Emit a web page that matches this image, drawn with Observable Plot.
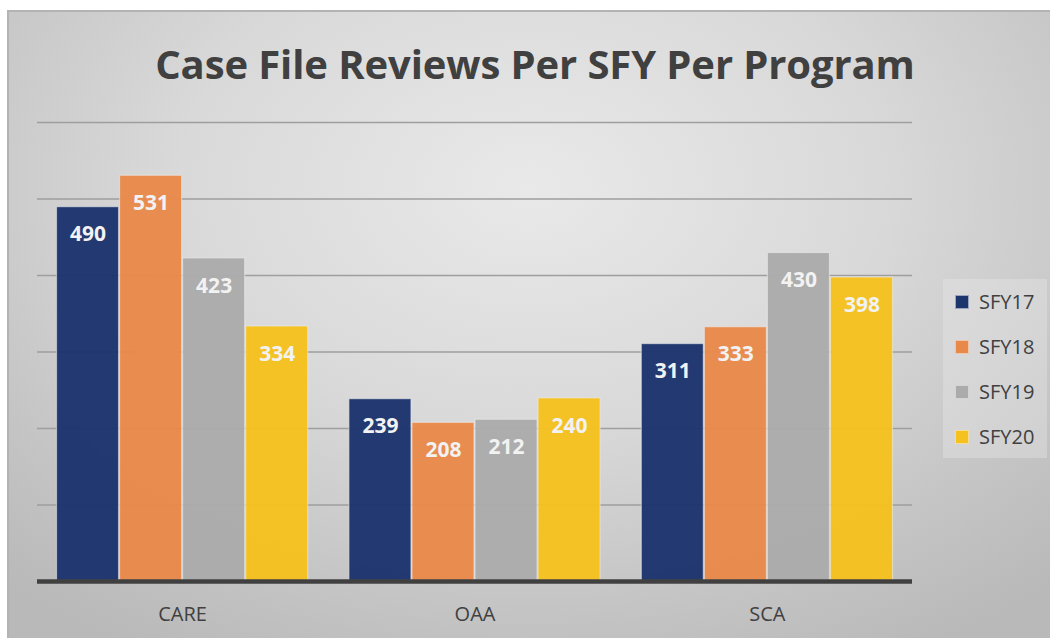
<!DOCTYPE html>
<html>
<head>
<meta charset="utf-8">
<script src="https://cdn.jsdelivr.net/npm/d3@7"></script>
<script src="https://cdn.jsdelivr.net/npm/@observablehq/plot@0.6"></script>
<style>
  html, body { margin: 0; padding: 0; background: #ffffff; }
  #wrap { position: relative; width: 1050px; height: 638px; overflow: hidden; }
  #panel {
    position: absolute; left: 7px; top: 10px; width: 1043px; height: 628px;
    box-sizing: border-box; border-left: 2px solid #b3b3b3; border-top: 2px solid #b3b3b3;
    background: radial-gradient(ellipse 75% 85% at 50% 28%, #e9e9e9 0%, #d9d9d9 45%, #c4c4c4 80%, #b9b9b9 100%);
  }
  #title {
    position: absolute; left: 0; width: 1070px; top: 36px; text-align: center;
    font-family: "Open Sans", sans-serif; font-weight: bold;
    font-size: 40px; color: #404040; letter-spacing: -0.1px;
  }
  .layer { position: absolute; left: 0; top: 0; }
  #legend {
    position: absolute; left: 943px; top: 279px; width: 104px; height: 179px;
    background: rgba(235,235,235,0.35); box-sizing: border-box; padding-top: 0px;
  }
  .item { display: flex; align-items: center; height: 45px; margin-top: 0; }
  .sw { width: 14px; height: 14px; margin-left: 12px; margin-right: 10px; border: 1px solid rgba(240,240,240,0.6); box-sizing: border-box; }
  .lab { font-family: "Open Sans", sans-serif; font-size: 20px; color: #404040; }
</style>
</head>
<body>
<div id="wrap">
  <div id="panel"></div>
  <div id="title"></div>
  <div id="grid" class="layer"></div>
  <div id="bars" class="layer"></div>
  <div id="base" class="layer"></div>
  <div id="legend"></div>
</div>
<script>
const titleText = "Case File Reviews Per SFY Per Program";
const programs = ["CARE", "OAA", "SCA"];
const series = ["SFY17", "SFY18", "SFY19", "SFY20"];
const colors = ["#1c356d", "#e8894a", "#ababab", "#f5c11f"];
const SFY17 = [490, 239, 311];
const SFY18 = [531, 208, 333];
const SFY19 = [423, 212, 430];
const SFY20 = [334, 240, 398];
const gridTicks = [100, 200, 300, 400, 500, 600];

const valuesBySeries = [SFY17, SFY18, SFY19, SFY20];
const data = [];
programs.forEach((p, i) => {
  series.forEach((s, j) => data.push({program: p, series: s, value: valuesBySeries[j][i]}));
});

document.getElementById("title").textContent = titleText;

const common = {
  width: 1050,
  height: 638,
  marginTop: 122,
  marginBottom: 57,
  marginLeft: 37,
  marginRight: 138,
  style: {background: "transparent", fontFamily: "Open Sans, sans-serif"},
  y: {domain: [0, 600], axis: null}
};

// grid lines layer (beneath bars)
const gridPlot = Plot.plot({
  ...common,
  x: {domain: [0, 1], axis: null},
  marks: [Plot.ruleY(gridTicks, {stroke: "#9e9e9e", strokeWidth: 1.6})]
});
document.getElementById("grid").appendChild(gridPlot);

// bars layer
const barPlot = Plot.plot({
  ...common,
  fx: {domain: programs, paddingInner: 0.1375, paddingOuter: 0.065, round: false, label: null},
  x: {domain: series, padding: 0, round: false, axis: null},
  color: {domain: series, range: colors},
  marks: [
    Plot.barY(data, {fx: "program", x: "series", y: "value", fill: "series", fillOpacity: 0.97,
      stroke: "#ececec", strokeOpacity: 0.55, strokeWidth: 1.2, inset: 0.5}),
    Plot.text(data, {fx: "program", x: "series", y: "value", text: d => String(d.value), dy: 28,
      fill: "#f2f2f2", fontSize: 21, fontWeight: "bold"}),
    Plot.axisFx({anchor: "bottom", tickSize: 0, tickPadding: 25, fontSize: 20, color: "#404040", label: null})
  ]
});
document.getElementById("bars").appendChild(barPlot);

// baseline layer (over bars)
const basePlot = Plot.plot({
  ...common,
  x: {domain: [0, 1], axis: null},
  marks: [Plot.ruleY([0], {stroke: "#404040", strokeWidth: 4.5})]
});
document.getElementById("base").appendChild(basePlot);

const legend = document.getElementById("legend");
series.forEach((s, j) => {
  const item = document.createElement("div");
  item.className = "item";
  const sw = document.createElement("div");
  sw.className = "sw";
  sw.style.background = colors[j];
  const lab = document.createElement("span");
  lab.className = "lab";
  lab.textContent = s;
  item.appendChild(sw); item.appendChild(lab);
  legend.appendChild(item);
});
</script>
</body>
</html>
